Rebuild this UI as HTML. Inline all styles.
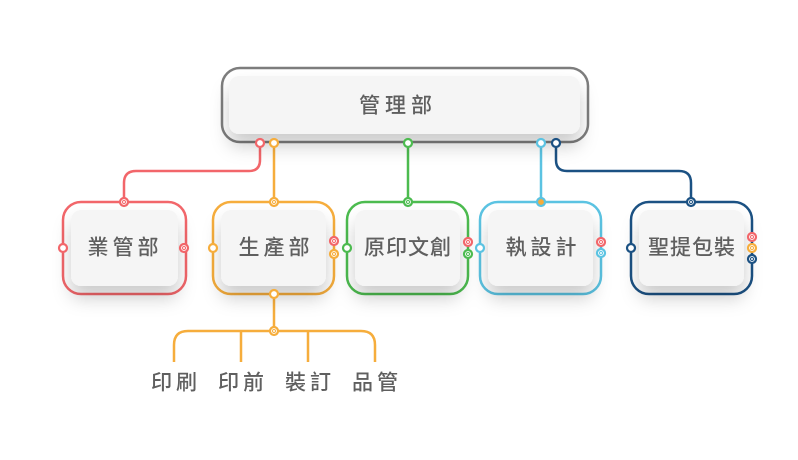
<!DOCTYPE html>
<html><head><meta charset="utf-8"><style>
html,body{margin:0;padding:0;background:#fff;}
svg{display:block}
text{font-family:"Liberation Sans","Noto Sans CJK TC",sans-serif;fill:#5f5f5f;font-size:21px;font-weight:500;text-anchor:middle;dominant-baseline:central;}
</style></head><body>
<svg width="798" height="460" viewBox="0 0 798 460" xmlns="http://www.w3.org/2000/svg">
<defs>
<filter id="sh" x="-40%" y="-30%" width="180%" height="200%">
<feDropShadow dx="0" dy="12" stdDeviation="9" flood-color="#000" flood-opacity="0.2"/>
</filter>
</defs>
<g fill="none" stroke-width="2.5">
<path d="M260 143 V160 Q260 171 249 171 H136 Q124 171 124 183 V202" stroke="#f2666a"/>
<path d="M274 143 V202" stroke="#f6ad3c"/>
<path d="M408 143 V202" stroke="#4cbb4f"/>
<path d="M541 143 V202" stroke="#5bc3e2"/>
<path d="M556 143 V160 Q556 171 567 171 H679 Q691 171 691 183 V202" stroke="#1b5183"/>
<path d="M274 294 V331" stroke="#f6ad3c"/>
<path d="M174 362 V345 Q174 331 188 331 H361 Q375 331 375 345 V362 M241 331 V362 M308 331 V362" stroke="#f6ad3c"/>
</g>
<rect x="222" y="68" width="366" height="74" rx="18" fill="#fff" stroke="#7d7d7d" stroke-width="2.5"/>
<rect x="229" y="76" width="351" height="58" rx="10" fill="#f5f5f5" filter="url(#sh)"/>
<text x="398" y="106" style="letter-spacing:5px">管理部</text>
<g stroke-width="2.5" fill="#fff">
<rect x="63" y="202" width="123" height="92" rx="18" stroke="#f2666a"/>
<rect x="213" y="202" width="121" height="92" rx="18" stroke="#f6ad3c"/>
<rect x="347" y="202" width="121" height="92" rx="18" stroke="#4cbb4f"/>
<rect x="480" y="202" width="121" height="92" rx="18" stroke="#5bc3e2"/>
<rect x="631" y="202" width="121" height="92" rx="18" stroke="#1b5183"/>
</g>
<g fill="#f5f5f5" filter="url(#sh)">
<rect x="71" y="210" width="107" height="76" rx="10"/>
<rect x="221" y="210" width="105" height="76" rx="10"/>
<rect x="355" y="210" width="105" height="76" rx="10"/>
<rect x="488" y="210" width="105" height="76" rx="10"/>
<rect x="639" y="210" width="105" height="76" rx="10"/>
</g>
<text x="125" y="248" style="letter-spacing:4px">業管部</text>
<text x="276" y="248" style="letter-spacing:4px">生產部</text>
<text x="408" y="248" style="letter-spacing:1px">原印文創</text>
<text x="543" y="248" style="letter-spacing:4px">執設計</text>
<text x="692" y="248" style="letter-spacing:1px">聖提包裝</text>
<text x="176" y="383" style="letter-spacing:4px">印刷</text>
<text x="243" y="383" style="letter-spacing:4px">印前</text>
<text x="310" y="383" style="letter-spacing:4px">裝訂</text>
<text x="377" y="383" style="letter-spacing:4px">品管</text>
<g fill="#fff" stroke-width="2.2">
<circle cx="260" cy="143" r="4" stroke="#f2666a"/>
<circle cx="274" cy="143" r="4" stroke="#f6ad3c"/>
<circle cx="408" cy="143" r="4" stroke="#4cbb4f"/>
<circle cx="541" cy="143" r="4" stroke="#5bc3e2"/>
<circle cx="556" cy="143" r="4" stroke="#1b5183"/>
<circle cx="124" cy="202" r="4" stroke="#f2666a"/>
<circle cx="274" cy="202" r="4" stroke="#f6ad3c"/>
<circle cx="408" cy="202" r="4" stroke="#4cbb4f"/>
<circle cx="541" cy="202" r="4" stroke="#5bc3e2" fill="#f6ad3c"/>
<circle cx="691" cy="202" r="4" stroke="#1b5183"/>
<circle cx="63" cy="248" r="4" stroke="#f2666a"/>
<circle cx="184" cy="248" r="4" stroke="#f2666a"/>
<circle cx="213" cy="248" r="4" stroke="#f6ad3c"/>
<circle cx="334" cy="241" r="4" stroke="#f2666a"/>
<circle cx="334" cy="254" r="4" stroke="#f6ad3c"/>
<circle cx="347" cy="248" r="4" stroke="#4cbb4f"/>
<circle cx="468" cy="242" r="4" stroke="#f2666a"/>
<circle cx="468" cy="254" r="4" stroke="#4cbb4f"/>
<circle cx="480" cy="248" r="4" stroke="#5bc3e2"/>
<circle cx="601" cy="242" r="4" stroke="#f2666a"/>
<circle cx="601" cy="253" r="4" stroke="#5bc3e2"/>
<circle cx="631" cy="248" r="4" stroke="#1b5183"/>
<circle cx="752" cy="237" r="4" stroke="#f2666a"/>
<circle cx="752" cy="248" r="4" stroke="#f6ad3c"/>
<circle cx="752" cy="259" r="4" stroke="#1b5183"/>
<circle cx="274" cy="294" r="4" stroke="#f6ad3c"/>
<circle cx="274" cy="331" r="4" stroke="#f6ad3c"/>
</g>
<g stroke-width="1" fill="none">
<circle cx="124" cy="202" r="1.5" stroke="#f2666a"/>
<circle cx="274" cy="202" r="1.5" stroke="#f6ad3c"/>
<circle cx="408" cy="202" r="1.5" stroke="#4cbb4f"/>
<circle cx="691" cy="202" r="1.5" stroke="#1b5183"/>
<circle cx="184" cy="248" r="1.5" stroke="#f2666a"/>
<circle cx="334" cy="241" r="1.5" stroke="#f2666a"/>
<circle cx="334" cy="254" r="1.5" stroke="#f6ad3c"/>
<circle cx="468" cy="242" r="1.5" stroke="#f2666a"/>
<circle cx="468" cy="254" r="1.5" stroke="#4cbb4f"/>
<circle cx="601" cy="242" r="1.5" stroke="#f2666a"/>
<circle cx="601" cy="253" r="1.5" stroke="#5bc3e2"/>
<circle cx="752" cy="237" r="1.5" stroke="#f2666a"/>
<circle cx="752" cy="248" r="1.5" stroke="#f6ad3c"/>
<circle cx="752" cy="259" r="1.5" stroke="#1b5183"/>
<circle cx="274" cy="331" r="1.5" stroke="#f6ad3c"/>
</g>
</svg>
</body></html>
